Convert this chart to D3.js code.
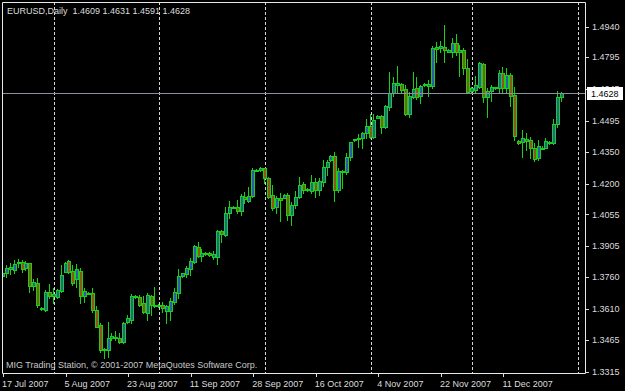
<!DOCTYPE html>
<html>
<head>
<meta charset="utf-8">
<script src="https://cdn.jsdelivr.net/npm/d3@7"></script>
<style>
body { margin: 0; background: #000; }
svg { display: block; }
text { font-family: "Liberation Sans", Arial, sans-serif; font-size: 9px; fill: #dcdcdc; }
</style>
</head>
<body>
<div id="chart"></div>
<script>

// Daily EURUSD bars (one value per bar, oldest first).
const opens = [
	1.3767, 1.3778, 1.3796, 1.3793, 1.3825, 1.3829, 1.3801, 1.3825, 1.3718, 1.3733,
	1.3612, 1.3605, 1.3691, 1.3671, 1.3668, 1.3696, 1.3785, 1.3835, 1.3790, 1.3749,
	1.3790, 1.3671, 1.3685, 1.3683, 1.3605, 1.3534, 1.3421, 1.3416, 1.3472, 1.3479,
	1.3472, 1.3455, 1.3550, 1.3558, 1.3671, 1.3668, 1.3636, 1.3592, 1.3671, 1.3628,
	1.3626, 1.3628, 1.3601, 1.3601, 1.3644, 1.3686, 1.3766, 1.3773, 1.3798, 1.3832,
	1.3900, 1.3859, 1.3871, 1.3873, 1.3856, 1.3853, 1.3978, 1.3958, 1.4060, 1.4087,
	1.4088, 1.4072, 1.4138, 1.4119, 1.4142, 1.4264, 1.4264, 1.4272, 1.4225, 1.4146,
	1.4088, 1.4131, 1.4134, 1.4146, 1.4052, 1.4099, 1.4138, 1.4197, 1.4175, 1.4165,
	1.4209, 1.4170, 1.4209, 1.4280, 1.4311, 1.4332, 1.4170, 1.4259, 1.4256, 1.4327,
	1.4405, 1.4409, 1.4413, 1.4437, 1.4473, 1.4421, 1.4510, 1.4518, 1.4468, 1.4562,
	1.4625, 1.4664, 1.4668, 1.4644, 1.4526, 1.4609, 1.4649, 1.4613, 1.4664, 1.4661,
	1.4661, 1.4845, 1.4837, 1.4843, 1.4821, 1.4821, 1.4861, 1.4821, 1.4829, 1.4743,
	1.4636, 1.4641, 1.4656, 1.4762, 1.4609, 1.4636, 1.4653, 1.4652, 1.4720, 1.4649,
	1.4712, 1.4617, 1.4401, 1.4397, 1.4410, 1.4405, 1.4366, 1.4319, 1.4370, 1.4369,
	1.4397, 1.4390, 1.4479, 1.4609
];
const highs = [
	1.3793, 1.3817, 1.3825, 1.3840, 1.3844, 1.3840, 1.3835, 1.3828, 1.3749, 1.3754,
	1.3620, 1.3699, 1.3726, 1.3708, 1.3704, 1.3817, 1.3832, 1.3840, 1.3817, 1.3821,
	1.3801, 1.3707, 1.3690, 1.3707, 1.3623, 1.3542, 1.3426, 1.3550, 1.3495, 1.3506,
	1.3495, 1.3550, 1.3581, 1.3680, 1.3675, 1.3675, 1.3671, 1.3683, 1.3675, 1.3715,
	1.3633, 1.3644, 1.3628, 1.3660, 1.3707, 1.3798, 1.3779, 1.3814, 1.3848, 1.3911,
	1.3926, 1.3891, 1.3878, 1.3876, 1.3884, 1.3982, 1.3982, 1.4091, 1.4118, 1.4094,
	1.4123, 1.4151, 1.4162, 1.4185, 1.4272, 1.4269, 1.4276, 1.4275, 1.4233, 1.4193,
	1.4142, 1.4157, 1.4151, 1.4154, 1.4115, 1.4165, 1.4233, 1.4209, 1.4181, 1.4240,
	1.4225, 1.4225, 1.4311, 1.4311, 1.4335, 1.4347, 1.4272, 1.4264, 1.4343, 1.4397,
	1.4410, 1.4432, 1.4445, 1.4503, 1.4526, 1.4526, 1.4523, 1.4523, 1.4570, 1.4727,
	1.4704, 1.4754, 1.4672, 1.4664, 1.4633, 1.4727, 1.4704, 1.4664, 1.4672, 1.4688,
	1.4850, 1.4868, 1.4872, 1.4947, 1.4834, 1.4884, 1.4903, 1.4853, 1.4840, 1.4786,
	1.4656, 1.4708, 1.4773, 1.4767, 1.4652, 1.4664, 1.4657, 1.4735, 1.4751, 1.4746,
	1.4720, 1.4656, 1.4405, 1.4453, 1.4437, 1.4421, 1.4390, 1.4405, 1.4375, 1.4413,
	1.4403, 1.4503, 1.4636, 1.4631
];
const lows = [
	1.3755, 1.3760, 1.3774, 1.3779, 1.3809, 1.3785, 1.3793, 1.3691, 1.3699, 1.3617,
	1.3605, 1.3601, 1.3660, 1.3638, 1.3661, 1.3691, 1.3784, 1.3779, 1.3723, 1.3712,
	1.3636, 1.3644, 1.3678, 1.3597, 1.3523, 1.3408, 1.3379, 1.3385, 1.3463, 1.3463,
	1.3451, 1.3447, 1.3542, 1.3545, 1.3663, 1.3623, 1.3591, 1.3558, 1.3581, 1.3620,
	1.3621, 1.3597, 1.3542, 1.3558, 1.3633, 1.3660, 1.3762, 1.3762, 1.3770, 1.3825,
	1.3856, 1.3837, 1.3866, 1.3859, 1.3844, 1.3821, 1.3926, 1.3953, 1.4037, 1.4083,
	1.4063, 1.4052, 1.4107, 1.4115, 1.4136, 1.4259, 1.4259, 1.4201, 1.4131, 1.4076,
	1.4063, 1.4025, 1.4130, 1.4029, 1.4005, 1.4084, 1.4131, 1.4154, 1.4165, 1.4154,
	1.4138, 1.4146, 1.4190, 1.4240, 1.4307, 1.4118, 1.4162, 1.4181, 1.4244, 1.4311,
	1.4401, 1.4374, 1.4369, 1.4413, 1.4413, 1.4416, 1.4507, 1.4437, 1.4460, 1.4547,
	1.4614, 1.4633, 1.4633, 1.4523, 1.4515, 1.4602, 1.4598, 1.4578, 1.4660, 1.4614,
	1.4649, 1.4771, 1.4818, 1.4774, 1.4818, 1.4798, 1.4806, 1.4708, 1.4715, 1.4628,
	1.4633, 1.4628, 1.4649, 1.4586, 1.4515, 1.4589, 1.4646, 1.4633, 1.4633, 1.4633,
	1.4567, 1.4405, 1.4387, 1.4324, 1.4358, 1.4322, 1.4307, 1.4311, 1.4363, 1.4366,
	1.4387, 1.4385, 1.4468, 1.4591
];
const closes = [
	1.3781, 1.3801, 1.3806, 1.3820, 1.3832, 1.3798, 1.3826, 1.3718, 1.3738, 1.3628,
	1.3614, 1.3691, 1.3671, 1.3680, 1.3699, 1.3770, 1.3828, 1.3785, 1.3730, 1.3796,
	1.3671, 1.3694, 1.3682, 1.3605, 1.3526, 1.3416, 1.3419, 1.3472, 1.3484, 1.3472,
	1.3455, 1.3545, 1.3566, 1.3671, 1.3666, 1.3628, 1.3597, 1.3675, 1.3628, 1.3626,
	1.3628, 1.3613, 1.3624, 1.3647, 1.3690, 1.3766, 1.3778, 1.3804, 1.3835, 1.3906,
	1.3859, 1.3872, 1.3873, 1.3864, 1.3868, 1.3978, 1.3963, 1.4063, 1.4088, 1.4090,
	1.4072, 1.4142, 1.4126, 1.4142, 1.4264, 1.4262, 1.4272, 1.4225, 1.4138, 1.4084,
	1.4131, 1.4123, 1.4146, 1.4052, 1.4099, 1.4138, 1.4193, 1.4170, 1.4172, 1.4206,
	1.4170, 1.4212, 1.4280, 1.4300, 1.4330, 1.4170, 1.4261, 1.4257, 1.4327, 1.4395,
	1.4409, 1.4413, 1.4440, 1.4471, 1.4421, 1.4500, 1.4520, 1.4468, 1.4566, 1.4625,
	1.4672, 1.4672, 1.4641, 1.4526, 1.4613, 1.4644, 1.4609, 1.4660, 1.4668, 1.4668,
	1.4840, 1.4834, 1.4850, 1.4829, 1.4829, 1.4861, 1.4821, 1.4829, 1.4743, 1.4633,
	1.4652, 1.4664, 1.4767, 1.4609, 1.4636, 1.4656, 1.4650, 1.4720, 1.4649, 1.4712,
	1.4614, 1.4426, 1.4390, 1.4413, 1.4401, 1.4366, 1.4316, 1.4379, 1.4368, 1.4401,
	1.4390, 1.4479, 1.4609, 1.4628
];

// Time axis: bar index of each date label, and of each month separator.
const dateTickBars = [0, 16, 32, 48, 64, 80, 96, 112, 128];
const dateLabels = ["17 Jul 2007", "5 Aug 2007", "23 Aug 2007", "11 Sep 2007", "28 Sep 2007",
	"16 Oct 2007", "4 Nov 2007", "22 Nov 2007", "11 Dec 2007"];
const separatorBars = [13, 40, 67, 94, 120, 147];

// Price axis labels.
const priceTicks = [1.4940, 1.4795, 1.4645, 1.4495, 1.4350, 1.4200, 1.4055, 1.3905, 1.3760, 1.3610, 1.3465, 1.3315];

const symbolName = "EURUSD,Daily";
const footer = "MIG Trading Station, \u00a9 2001-2007 MetaQuotes Software Corp.";


// Dimensions.
const W = 625, H = 391;
const plot = { left: 2, top: 2, right: 585, bottom: 373 };

const svg = d3.select("#chart").append("svg")
	.attr("width", W)
	.attr("height", H);

svg.append("rect").attr("width", W).attr("height", H).attr("fill", "#000");

// Scales
let nBars = opens.length;
let x = d3.scaleLinear()
	.domain([0, nBars - 1])
	.range([3, 3 + (nBars - 1) * 3.91]);

let y = d3.scaleLinear()
	.domain([1.3315, 1.4940])
	.range([371.5, 26.5]);

const crisp = v => Math.round(v) + 0.5;

svg.append("clipPath").attr("id", "clip")
	.append("rect")
	.attr("x", plot.left).attr("y", plot.top)
	.attr("width", plot.right - plot.left).attr("height", plot.bottom - plot.top);

const body = svg.append("g").attr("clip-path", "url(#clip)");


// Month separators.
body.selectAll("line.sep")
	.data(separatorBars)
	.join("line")
	.attr("class", "sep")
	.attr("x1", d => crisp(x(d))).attr("x2", d => crisp(x(d)))
	.attr("y1", plot.top).attr("y2", plot.bottom)
	.attr("stroke", "#d8d8d8")
	.attr("stroke-dasharray", "3,2");


// Candles
const bars = d3.range(nBars).map(i => ({
	i: i, o: opens[i], h: highs[i], l: lows[i], c: closes[i]
}));

const candle = body.append("g")
	.selectAll("g")
	.data(bars)
	.join("g");

candle.append("line")
	.attr("x1", d => Math.round(x(d.i)) - 0.5)
	.attr("x2", d => Math.round(x(d.i)) - 0.5)
	.attr("y1", d => Math.round(y(d.h)))
	.attr("y2", d => Math.round(y(d.l)) + 1)
	.attr("stroke", "#18d018");

candle.append("rect")
	.attr("x", d => Math.round(x(d.i)) - 1.5)
	.attr("width", 3)
	.attr("y", d => crisp(y(Math.max(d.o, d.c))))
	.attr("height", d => Math.max(1, Math.round(y(Math.min(d.o, d.c))) - Math.round(y(Math.max(d.o, d.c)))))
	.attr("fill", d => d.c >= d.o ? "#2a5fa8" : "#8a5a14")
	.attr("stroke", "#18d018");


// Last price line.
const last = closes[nBars - 1];
svg.append("line")
	.attr("x1", plot.left).attr("x2", plot.right)
	.attr("y1", crisp(y(last))).attr("y2", crisp(y(last)))
	.attr("stroke", "#8a909c");


// Frame
svg.append("path")
	.attr("d", `M${plot.left + 0.5},${plot.bottom + 0.5}V${plot.top + 0.5}H${plot.right + 0.5}V${plot.bottom + 0.5}H${plot.left + 0.5}`)
	.attr("fill", "none")
	.attr("stroke", "#e8e8e8");


// Price axis
const yAxis = svg.append("g");
yAxis.selectAll("line")
	.data(priceTicks)
	.join("line")
	.attr("x1", plot.right + 1).attr("x2", plot.right + 4)
	.attr("y1", d => crisp(y(d))).attr("y2", d => crisp(y(d)))
	.attr("stroke", "#dcdcdc");
yAxis.selectAll("text")
	.data(priceTicks)
	.join("text")
	.attr("x", plot.right + 7)
	.attr("y", d => y(d))
	.attr("dy", "0.35em")
	.text(d => d.toFixed(4));

// Current price box.
const box = svg.append("g").attr("transform", `translate(${plot.right + 2},${Math.round(y(last)) - 6})`);
box.append("rect")
	.attr("width", 36).attr("height", 13)
	.attr("fill", "#fff");
box.append("text")
	.attr("x", 4).attr("y", 6.5)
	.attr("dy", "0.35em")
	.style("fill", "#000")
	.text(last.toFixed(4));


// Date axis
const xAxis = svg.append("g");
xAxis.selectAll("line")
	.data(dateTickBars)
	.join("line")
	.attr("x1", d => crisp(x(d))).attr("x2", d => crisp(x(d)))
	.attr("y1", plot.bottom + 1).attr("y2", plot.bottom + 4)
	.attr("stroke", "#dcdcdc");
xAxis.selectAll("text")
	.data(dateTickBars)
	.join("text")
	.attr("x", d => x(d) - 1)
	.attr("y", 387)
	.text((d, i) => dateLabels[i]);


// Header and footer.
svg.append("text")
	.attr("x", 7).attr("y", 14)
	.style("white-space", "pre")
	.text(symbolName + "  " + [opens, highs, lows, closes].map(a => a[nBars - 1].toFixed(4)).join(" "));

svg.append("text")
	.attr("x", 6).attr("y", 368)
	.style("fill", "#c8c8c8")
	.text(footer);

</script>
</body>
</html>
